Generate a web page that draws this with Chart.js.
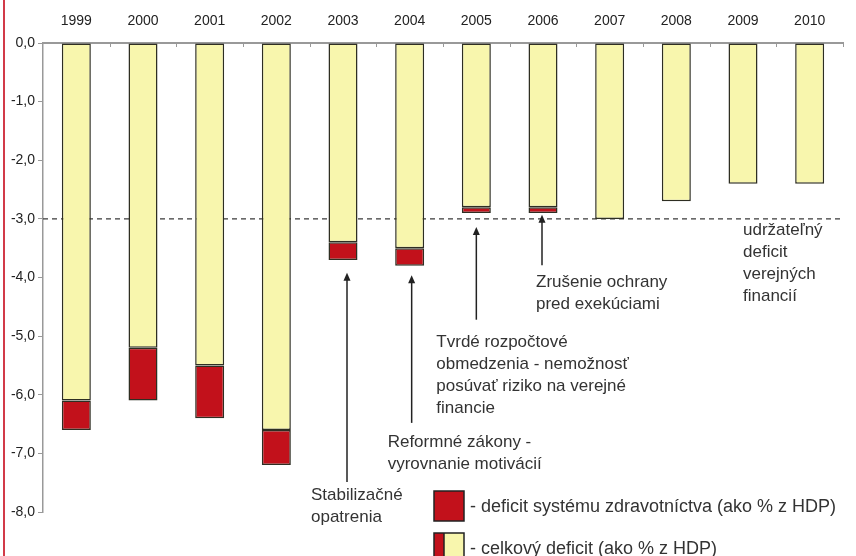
<!DOCTYPE html>
<html>
<head>
<meta charset="utf-8">
<script src="https://cdn.jsdelivr.net/npm/chart.js@4.4.1/dist/chart.umd.min.js"></script>
<style>
  html, body { margin: 0; padding: 0; background: #fff; }
  #wrap { position: relative; width: 856px; height: 556px; }
</style>
</head>
<body>
<div id="wrap"><canvas id="deficitChart" width="856" height="556"></canvas></div>
<script>
const years = ["1999", "2000", "2001", "2002", "2003", "2004", "2005", "2006", "2007", "2008", "2009", "2010"];
// deficit without the health system part (% of GDP)
const otherDeficit = [-6.1, -5.2, -5.5, -6.6, -3.4, -3.5, -2.8, -2.8, -3.0, -2.7, -2.4, -2.4];
// health system deficit (% of GDP), stacked below
const healthDeficit = [-0.5, -0.9, -0.9, -0.6, -0.3, -0.3, -0.1, -0.1, 0, 0, 0, 0];
const sustainableLevel = -3.0;

const FONT = "'Liberation Sans', Arial, sans-serif";
const YELLOW = "#f8f6ad";
const RED = "#c2111b";
const EDGE = "#2e2e22";
const TEXT = "#333";

// callouts: bar index, arrow tip/tail values, text offset from bar centre
const notes = [
  { idx: 4, dx: 4, tip: -3.92, tail: -7.49, tx: -32, ty: -7.71, lines: ["Stabilizačné", "opatrenia"] },
  { idx: 5, dx: 2, tip: -3.96, tail: -6.48, tx: -22, ty: -6.81, lines: ["Reformné zákony -", "vyrovnanie motivácií"] },
  { idx: 6, dx: 0, tip: -3.14, tail: -4.72, tx: -40, ty: -5.10, lines: ["Tvrdé rozpočtové", "obmedzenia - nemožnosť", "posúvať riziko na verejné", "financie"] },
  { idx: 7, dx: -1, tip: -2.93, tail: -3.79, tx: -7, ty: -4.08, lines: ["Zrušenie ochrany", "pred exekúciami"] },
  { idx: 10, dx: 0, tip: null, tail: null, tx: 0, ty: -3.19, lines: ["udržateľný", "deficit", "verejných", "financií"] }
];

const legendItems = [
  "- deficit systému zdravotníctva (ako % z HDP)",
  "- celkový deficit (ako % z HDP)"
];

const decorations = {
  id: "decorations",
  beforeDatasetsDraw(chart) {
    const { ctx, chartArea, scales } = chart;
    const y = scales.y.getPixelForValue(sustainableLevel);
    ctx.save();
    ctx.strokeStyle = "#3a3a3a";
    ctx.lineWidth = 1.4;
    ctx.setLineDash([5, 4]);
    ctx.beginPath();
    ctx.moveTo(chartArea.left, y);
    ctx.lineTo(chartArea.right, y);
    ctx.stroke();
    ctx.restore();
  },
  afterDraw(chart) {
    const { ctx, chartArea, scales } = chart;
    const xs = scales.x, ys = scales.y;
    ctx.save();

    // small ticks between categories under the top axis
    ctx.strokeStyle = "#999";
    ctx.lineWidth = 1;
    const step = (chartArea.right - chartArea.left) / years.length;
    for (let i = 1; i <= years.length; i++) {
      const x = Math.round(chartArea.left + i * step) + 0.5;
      ctx.beginPath();
      ctx.moveTo(x, chartArea.top);
      ctx.lineTo(x, chartArea.top + 4);
      ctx.stroke();
    }

    // callouts
    ctx.font = "17px " + FONT;
    ctx.textBaseline = "middle";
    notes.forEach(n => {
      const cx = xs.getPixelForValue(n.idx);
      if (n.tip !== null) {
        const ax = cx + n.dx;
        const y1 = ys.getPixelForValue(n.tip);
        const y2 = ys.getPixelForValue(n.tail);
        ctx.strokeStyle = "#222";
        ctx.fillStyle = "#222";
        ctx.lineWidth = 1.5;
        ctx.beginPath();
        ctx.moveTo(ax, y2);
        ctx.lineTo(ax, y1 + 6);
        ctx.stroke();
        ctx.beginPath();
        ctx.moveTo(ax, y1);
        ctx.lineTo(ax - 3.5, y1 + 8);
        ctx.lineTo(ax + 3.5, y1 + 8);
        ctx.closePath();
        ctx.fill();
      }
      ctx.fillStyle = TEXT;
      const ty = ys.getPixelForValue(n.ty);
      n.lines.forEach((line, k) => ctx.fillText(line, cx + n.tx, ty + k * 22));
    });

    // legend
    const lx = 434, ly = [491, 533], box = 30;
    ctx.lineWidth = 1.5;
    ctx.strokeStyle = "#222";
    ctx.fillStyle = RED;
    ctx.fillRect(lx, ly[0], box, box);
    ctx.strokeRect(lx, ly[0], box, box);
    ctx.fillStyle = YELLOW;
    ctx.fillRect(lx, ly[1], box, box);
    ctx.fillStyle = RED;
    ctx.fillRect(lx, ly[1], 10, box);
    ctx.strokeRect(lx, ly[1], box, box);
    ctx.beginPath();
    ctx.moveTo(lx + 10, ly[1]);
    ctx.lineTo(lx + 10, ly[1] + box);
    ctx.stroke();
    ctx.fillStyle = TEXT;
    ctx.font = "18px " + FONT;
    legendItems.forEach((t, i) => ctx.fillText(t, lx + 36, ly[i] + 16));

    // red margin stripe
    ctx.fillStyle = "#d23a48";
    ctx.fillRect(3, 0, 2, chart.height);
    ctx.restore();
  }
};

new Chart(document.getElementById("deficitChart"), {
  type: "bar",
  data: {
    labels: years,
    datasets: [
      {
        label: "celkový deficit",
        data: otherDeficit,
        backgroundColor: YELLOW,
        borderColor: EDGE,
        borderWidth: 1.5,
        borderSkipped: false
      },
      {
        label: "deficit systému zdravotníctva",
        data: healthDeficit,
        backgroundColor: RED,
        borderColor: EDGE,
        borderWidth: ctx => (ctx.raw === 0 ? 0 : 1.5),
        borderSkipped: false
      }
    ]
  },
  options: {
    responsive: false,
    animation: false,
    layout: { padding: { left: 0, right: 13, top: 0, bottom: 44 } },
    datasets: { bar: { barPercentage: 0.435, categoryPercentage: 1 } },
    plugins: { legend: { display: false }, tooltip: { enabled: false } },
    scales: {
      x: {
        position: "top",
        stacked: true,
        afterFit: s => { s.height = 43; },
        grid: { display: false, drawTicks: false },
        border: { color: "#999", width: 2 },
        ticks: { color: "#222", font: { family: FONT, size: 14 }, padding: 13 }
      },
      y: {
        stacked: true,
        min: -8,
        max: 0,
        afterFit: s => { s.width = 43; },
        grid: { drawOnChartArea: false, drawTicks: true, tickLength: 5, color: "#999" },
        border: { color: "#999", width: 1.5 },
        ticks: {
          stepSize: 1,
          color: "#222",
          padding: 3,
          font: { family: FONT, size: 14 },
          callback: v => v.toFixed(1).replace(".", ",")
        }
      }
    }
  },
  plugins: [decorations]
});
</script>
</body>
</html>
